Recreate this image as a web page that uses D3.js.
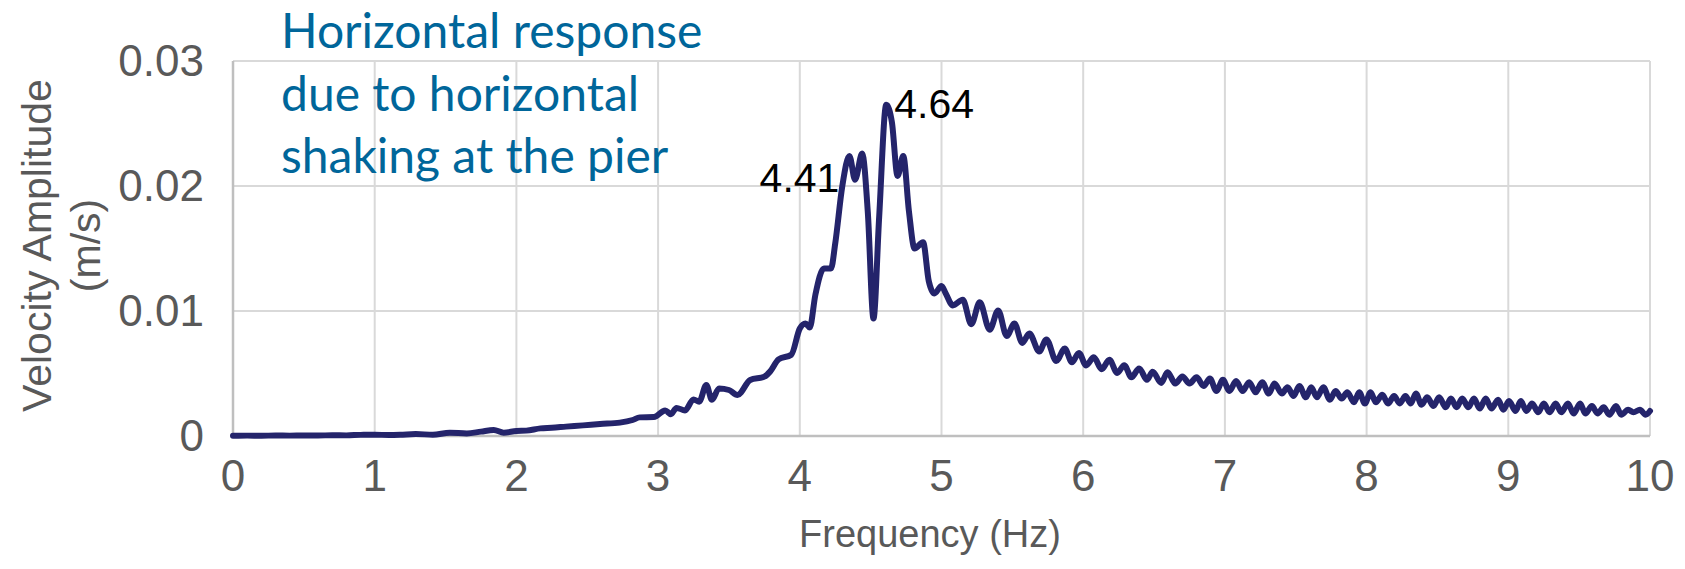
<!DOCTYPE html>
<html>
<head>
<meta charset="utf-8">
<script src="https://cdn.jsdelivr.net/npm/d3@7"></script>
<style>
  html, body { margin: 0; padding: 0; background: #fff; }
  #chart { width: 1685px; height: 569px; }
</style>
</head>
<body>
<div id="chart"></div>
<script>
// spectrum (Hz, m/s)
const freq = [
  0.00, 0.10, 0.20, 0.30, 0.40, 0.50, 0.60, 0.70, 0.80, 0.90,
  1.00, 1.10, 1.18, 1.29, 1.41, 1.53, 1.65, 1.75, 1.84, 1.91,
  2.00, 2.07, 2.17, 2.25, 2.35, 2.47, 2.59, 2.73, 2.82, 2.87,
  2.97, 3.05, 3.09, 3.13, 3.19, 3.25, 3.29, 3.34, 3.38, 3.43,
  3.50, 3.56, 3.65, 3.75, 3.79, 3.85, 3.94, 4.00, 4.04, 4.07,
  4.11, 4.17, 4.22, 4.25, 4.30, 4.35, 4.39, 4.44, 4.48, 4.52,
  4.56, 4.61, 4.65, 4.69, 4.73, 4.77, 4.81, 4.87, 4.91, 4.95,
  5.00, 5.03, 5.08, 5.15, 5.21, 5.27, 5.34, 5.40, 5.46, 5.515,
  5.57, 5.62, 5.69, 5.74, 5.81, 5.87, 5.92, 5.97, 6.02, 6.075,
  6.13, 6.185, 6.24, 6.29, 6.34, 6.395, 6.45, 6.49, 6.55, 6.595,
  6.65, 6.70, 6.75, 6.80, 6.85, 6.894, 6.94, 6.986, 7.032, 7.079,
  7.125, 7.171, 7.217, 7.263, 7.31, 7.35, 7.402, 7.442, 7.485, 7.525,
  7.572, 7.609, 7.649, 7.695, 7.741, 7.781, 7.824, 7.864, 7.911, 7.948,
  7.988, 8.028, 8.065, 8.111, 8.151, 8.194, 8.234, 8.274, 8.311, 8.348,
  8.388, 8.428, 8.472, 8.512, 8.558, 8.595, 8.635, 8.675, 8.718, 8.758,
  8.798, 8.841, 8.881, 8.928, 8.965, 9.005, 9.051, 9.088, 9.128, 9.168,
  9.211, 9.251, 9.291, 9.334, 9.374, 9.421, 9.461, 9.507, 9.544, 9.59,
  9.63, 9.673, 9.713, 9.76, 9.797, 9.846, 9.883, 9.929, 9.969, 10.0
];
const amp = [
  0.00002, 0.00003, 0.00002, 0.00004, 0.00003, 0.00005, 0.00004, 0.00006, 0.00005, 0.00009,
  0.00010, 0.00008, 0.00010, 0.00016, 0.00010, 0.00027, 0.00020, 0.00035, 0.00048, 0.00027,
  0.00040, 0.00043, 0.00061, 0.00066, 0.00075, 0.00085, 0.00096, 0.00107, 0.00128, 0.00149,
  0.00152, 0.00205, 0.00175, 0.00225, 0.00205, 0.00293, 0.00275, 0.00408, 0.00290, 0.00381,
  0.00368, 0.00328, 0.00448, 0.00475, 0.00515, 0.00613, 0.00650, 0.00860, 0.00900, 0.00868,
  0.01130, 0.01340, 0.01340, 0.01540, 0.02000, 0.02240, 0.02050, 0.02260, 0.01790, 0.00940,
  0.01750, 0.02650, 0.02510, 0.02080, 0.02240, 0.01800, 0.01500, 0.01550, 0.01240, 0.01140,
  0.01200, 0.01140, 0.01045, 0.01090, 0.00895, 0.01070, 0.00850, 0.01005, 0.00800, 0.00900,
  0.00745, 0.00820, 0.00676, 0.00773, 0.00600, 0.00700, 0.00590, 0.00665, 0.00565, 0.00630,
  0.00535, 0.00610, 0.00505, 0.00567, 0.00470, 0.00540, 0.00450, 0.00515, 0.00425, 0.00510,
  0.00420, 0.00476, 0.00420, 0.00470, 0.00400, 0.00460, 0.00360, 0.00450, 0.00360, 0.00440,
  0.00360, 0.00430, 0.00350, 0.00430, 0.00340, 0.00420, 0.00340, 0.00390, 0.00320, 0.00400,
  0.00310, 0.00390, 0.00310, 0.00390, 0.00290, 0.00360, 0.00300, 0.00350, 0.00270, 0.00350,
  0.00260, 0.00350, 0.00270, 0.00330, 0.00260, 0.00320, 0.00260, 0.00320, 0.00260, 0.00340,
  0.00250, 0.00310, 0.00240, 0.00310, 0.00230, 0.00300, 0.00230, 0.00300, 0.00230, 0.00300,
  0.00220, 0.00300, 0.00220, 0.00290, 0.00210, 0.00280, 0.00200, 0.00280, 0.00200, 0.00260,
  0.00190, 0.00260, 0.00190, 0.00260, 0.00190, 0.00260, 0.00180, 0.00260, 0.00180, 0.00240,
  0.00180, 0.00230, 0.00170, 0.00240, 0.00170, 0.00210, 0.00190, 0.00210, 0.00170, 0.00200
];

const xTicks = [0, 1, 2, 3, 4, 5, 6, 7, 8, 9, 10];
const yTicks = [0, 0.01, 0.02, 0.03];
const yTickLabels = ["0", "0.01", "0.02", "0.03"];

const peakLabels = ["4.41", "4.64"];
const peakFreqs = [4.35, 4.61];
const peakAmps = [0.0224, 0.0265];

const noteLines = ["Horizontal response", "due to horizontal", "shaking at the pier"];

const width = 1685;
const height = 569;
const margin = { top: 61, right: 35, bottom: 133, left: 233 };

const svg = d3.select("#chart")
  .append("svg")
  .attr("width", width)
  .attr("height", height)
  .attr("viewBox", `0 0 ${width} ${height}`);

const x = d3.scaleLinear().domain([0, 10]).range([margin.left, width - margin.right]);
const y = d3.scaleLinear().domain([0, 0.03]).range([height - margin.bottom, margin.top]);

// gridlines
svg.append("g")
  .selectAll("line")
  .data(xTicks.slice(1))
  .join("line")
  .attr("x1", d => x(d)).attr("x2", d => x(d))
  .attr("y1", y(0)).attr("y2", y(0.03))
  .attr("stroke", "#d9d9d9").attr("stroke-width", 2);

svg.append("g")
  .selectAll("line")
  .data(yTicks.slice(1))
  .join("line")
  .attr("x1", x(0)).attr("x2", x(10))
  .attr("y1", d => y(d)).attr("y2", d => y(d))
  .attr("stroke", "#d9d9d9").attr("stroke-width", 2);

// axis lines
svg.append("line")
  .attr("x1", x(0)).attr("x2", x(0))
  .attr("y1", y(0)).attr("y2", y(0.03))
  .attr("stroke", "#bfbfbf").attr("stroke-width", 2.5);
svg.append("line")
  .attr("x1", x(0)).attr("x2", x(10))
  .attr("y1", y(0)).attr("y2", y(0))
  .attr("stroke", "#bfbfbf").attr("stroke-width", 2.5);

const font = "'Liberation Sans', Arial, sans-serif";

// tick labels
svg.append("g")
  .selectAll("text")
  .data(yTicks)
  .join("text")
  .attr("x", x(0) - 29)
  .attr("y", d => y(d) + 15)
  .attr("text-anchor", "end")
  .attr("font-family", font)
  .attr("font-size", 44)
  .attr("fill", "#595959")
  .text((d, i) => yTickLabels[i]);

svg.append("g")
  .selectAll("text")
  .data(xTicks)
  .join("text")
  .attr("x", d => x(d))
  .attr("y", y(0) + 55)
  .attr("text-anchor", "middle")
  .attr("font-family", font)
  .attr("font-size", 44)
  .attr("fill", "#595959")
  .text(d => d);

// axis titles
svg.append("text")
  .attr("x", 930)
  .attr("y", 547)
  .attr("text-anchor", "middle")
  .attr("font-family", font)
  .attr("font-size", 38)
  .attr("fill", "#595959")
  .text("Frequency (Hz)");

const yTitle = svg.append("text")
  .attr("transform", `translate(0, ${(y(0) + y(0.03)) / 2 - 3}) rotate(-90)`)
  .attr("text-anchor", "middle")
  .attr("font-family", font)
  .attr("font-size", 41)
  .attr("fill", "#595959");
yTitle.append("tspan").attr("x", 0).attr("y", 51).text("Velocity Amplitude");
yTitle.append("tspan").attr("x", 0).attr("y", 100).text("(m/s)");

// spectrum line
const points = freq.map((f, i) => [f, amp[i]]);
const line = d3.line()
  .x(d => x(d[0]))
  .y(d => y(d[1]))
  .curve(d3.curveMonotoneX);

svg.append("path")
  .datum(points)
  .attr("d", line)
  .attr("fill", "none")
  .attr("stroke", "#24246b")
  .attr("stroke-width", 6)
  .attr("stroke-linejoin", "round")
  .attr("stroke-linecap", "round");

// peak labels
svg.append("text")
  .attr("x", x(peakFreqs[0]) - 10)
  .attr("y", y(peakAmps[0]) + 36)
  .attr("text-anchor", "end")
  .attr("font-family", font)
  .attr("font-size", 41)
  .attr("fill", "#000")
  .text(peakLabels[0]);

svg.append("text")
  .attr("x", x(peakFreqs[1]) + 8)
  .attr("y", y(peakAmps[1]) + 13)
  .attr("font-family", font)
  .attr("font-size", 41)
  .attr("fill", "#000")
  .text(peakLabels[1]);

// note
svg.append("g")
  .selectAll("text")
  .data(noteLines)
  .join("text")
  .attr("x", 281)
  .attr("y", (d, i) => 48 + i * 62.5)
  .attr("font-family", "Lato, 'Open Sans', sans-serif")
  .attr("font-size", 48)
  .attr("fill", "#00669a")
  .text(d => d);
</script>
</body>
</html>
